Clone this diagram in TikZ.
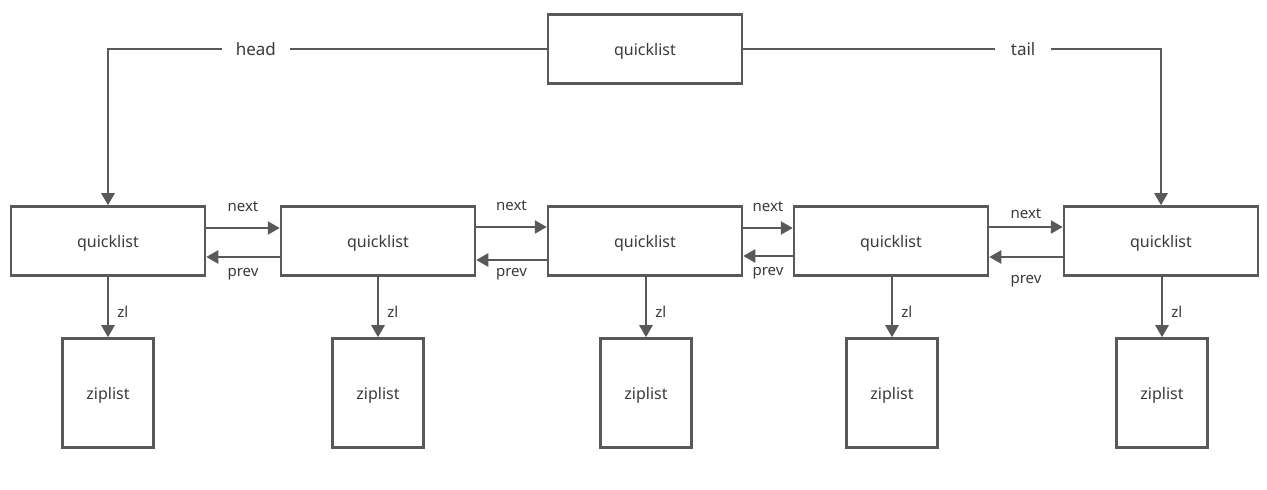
\documentclass[tikz,border=0pt]{standalone}
\usepackage{fontspec}
\setmainfont{Noto Sans}
\usetikzlibrary{arrows.meta, positioning, calc}
\definecolor{linegray}{HTML}{595959}
\definecolor{textgray}{HTML}{3A3A3A}

\begin{document}
\begin{tikzpicture}[
        x=0.5pt, y=-0.5pt,
        qbox/.style={
            rectangle,
            minimum width=97pt,
            minimum height=34.5pt,
            text height=7pt,
            text depth=0pt,
            draw=linegray,
            line width=1.25pt,
            text=textgray,
            font=\fontsize{8}{10}\selectfont
        },
        zbox/.style={
            qbox,
            minimum width=45.5pt,
            minimum height=54.5pt
        },
        link/.style={
            draw=linegray,
            line width=1.25pt,
            -{Triangle[length=6pt, width=6.5pt]}
        },
        lbl/.style={
            text=textgray,
            inner sep=1pt,
            font=\fontsize{7.5}{9}\selectfont
        }
    ]
        \useasboundingbox (0,0) rectangle (1267,490);

        % quicklist header
        \node[qbox] (top) at (645,49) {quicklist};

        % nodes of the list
        \node[qbox] (q1) at (108,241) {quicklist};
        \node[qbox] (q2) at (378,241) {quicklist};
        \node[qbox] (q3) at (645,241) {quicklist};
        \node[qbox] (q4) at (891,241) {quicklist};
        \node[qbox] (q5) at (1161,241) {quicklist};

        % ziplists
        \node[zbox] (z1) at (108,393) {ziplist};
        \node[zbox] (z2) at (378,393) {ziplist};
        \node[zbox] (z3) at (646,393) {ziplist};
        \node[zbox] (z4) at (892,393) {ziplist};
        \node[zbox] (z5) at (1162,393) {ziplist};

        % head and tail
        \draw[link] (top.west) -- (q1.north |- top.west)
            node[pos=0.663, fill=white, text=textgray, inner xsep=7pt,
                 font=\fontsize{8.5}{10}\selectfont] {head}
            -- (q1.north);
        \draw[link] (top.east) -- (q5.north |- top.east)
            node[pos=0.67, fill=white, text=textgray, inner xsep=8pt,
                 font=\fontsize{8.5}{10}\selectfont] {tail}
            -- (q5.north);

        % next / prev
        \draw[link] ([yshift=6.5pt]q1.east) -- ([yshift=6.5pt]q2.west)
            node[lbl, midway, above=6.5pt] {next};
        \draw[link] ([yshift=-8pt]q2.west) -- ([yshift=-8pt]q1.east)
            node[lbl, midway, below=4pt] {prev};
        \draw[link] ([yshift=7pt]q2.east) -- ([yshift=7pt]q3.west)
            node[lbl, midway, above=6.5pt] {next};
        \draw[link] ([yshift=-9.5pt]q3.west) -- ([yshift=-9.5pt]q2.east)
            node[lbl, midway, below=2.5pt] {prev};
        \draw[link] ([yshift=6.5pt]q3.east) -- ([yshift=6.5pt]q4.west)
            node[lbl, midway, above=6.5pt] {next};
        \draw[link] ([yshift=-7.5pt]q4.west) -- ([yshift=-7.5pt]q3.east)
            node[lbl, midway, below=4pt] {prev};
        \draw[link] ([yshift=7pt]q4.east) -- ([yshift=7pt]q5.west)
            node[lbl, midway, above=2.5pt] {next};
        \draw[link] ([yshift=-8pt]q5.west) -- ([yshift=-8pt]q4.east)
            node[lbl, midway, below=7.5pt] {prev};

        % zl pointers
        \draw[link] (z1.north |- q1.south) -- (z1.north) node[lbl, pos=0.58, right=3pt] {zl};
        \draw[link] (z2.north |- q2.south) -- (z2.north) node[lbl, pos=0.58, right=3pt] {zl};
        \draw[link] (z3.north |- q3.south) -- (z3.north) node[lbl, pos=0.58, right=3pt] {zl};
        \draw[link] (z4.north |- q4.south) -- (z4.north) node[lbl, pos=0.58, right=3pt] {zl};
        \draw[link] (z5.north |- q5.south) -- (z5.north) node[lbl, pos=0.58, right=3pt] {zl};
    \end{tikzpicture}
\end{document}
